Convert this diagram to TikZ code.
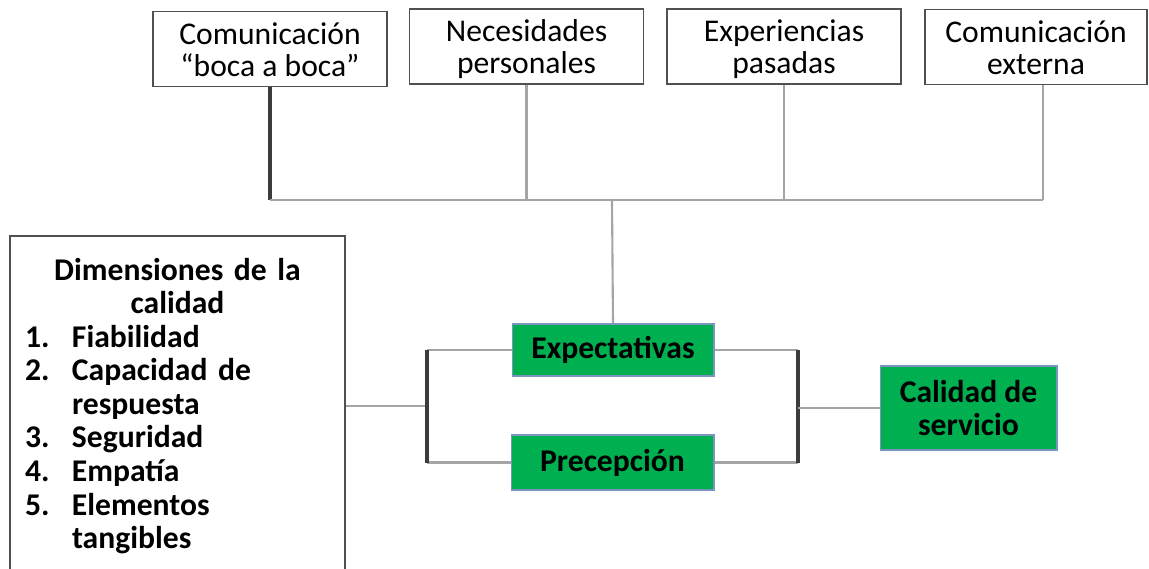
\documentclass[tikz,border=0pt]{standalone}
\usepackage{fontspec}
\setmainfont{Carlito}
\usetikzlibrary{calc}
\definecolor{rahmen}{RGB}{80,80,80}
\definecolor{linie}{RGB}{165,165,165}
\definecolor{balken}{RGB}{60,60,60}
\definecolor{gruen}{RGB}{0,176,80}
\definecolor{gruenrand}{RGB}{120,150,190}

\begin{document}
\begin{tikzpicture}[x=0.02cm, y=-0.02cm,
    font=\fontsize{18}{18.4}\selectfont,
    topbox/.style={draw=rahmen, line width=0.9pt, fill=white, align=center, minimum width=4.68cm, minimum height=1.5cm,
                   inner sep=0pt, text height=1.3cm, text depth=0.2cm},
    greenbox/.style={draw=gruenrand, line width=0.6pt, fill=gruen, align=center, font=\fontsize{18}{19}\selectfont\bfseries, inner sep=0pt},
    graylink/.style={draw=linie, line width=1.2pt},
    darklink/.style={draw=balken, line width=1.8pt}]

    \clip (0,0) rectangle (1149,568);

    % obere Reihe
    \node[topbox] (boca) at (270,49) {Comunicación\\“boca a boca”};
    \node[topbox, minimum height=1.46cm] (nec) at (526.5,46.5) {Necesidades\\personales};
    \node[topbox] (exp) at (784,46.5) {Experiencias\\pasadas};
    \node[topbox, minimum width=4.44cm] (ext) at (1036,47) {Comunicación\\externa};

    \coordinate (hub) at (612,200);
    \draw[darklink] (boca.south) -- (boca.south |- hub);
    \draw[graylink] (nec.south) -- (nec.south |- hub);
    \draw[graylink] (exp.south) -- (exp.south |- hub);
    \draw[graylink] ([xshift=0.14cm]ext.south) -- ([xshift=0.14cm]ext.south |- hub);
    \draw[graylink] (boca.south |- hub) -- ([xshift=0.14cm]ext.south |- hub);

    % mitte
    \node[greenbox, minimum width=4.04cm, minimum height=1.04cm] (erw) at (613,350) {Expectativas};
    \node[greenbox, minimum width=4.06cm, minimum height=1.1cm] (wahr) at (612.5,462.5) {Precepción};
    \node[greenbox, minimum width=3.54cm, minimum height=1.68cm] (cal) at (968.5,408) {Calidad de\\servicio};

    \draw[graylink] (hub) -- (erw.north);

    % linke box
    \node[draw=rahmen, line width=0.9pt, fill=white, text width=6.1cm, inner xsep=0.3cm, minimum height=6.8cm,
          font=\fontsize{18}{19.1}\selectfont\bfseries] (dim) at (177.5,406) {%
        \centering Dimensiones de la\\calidad\par
        \raggedright
        \makebox[0.94cm][l]{1.}Fiabilidad\\
        \makebox[0.94cm][l]{2.}Capacidad de\\
        \hspace*{0.94cm}respuesta\\
        \makebox[0.94cm][l]{3.}Seguridad\\
        \makebox[0.94cm][l]{4.}Empatía\\
        \makebox[0.94cm][l]{5.}Elementos\\
        \hspace*{0.94cm}tangibles\par};

    \coordinate (lb) at (427,406);
    \coordinate (rb) at (798,409);

    \draw[graylink] (dim.east) -- (dim.east -| lb);
    \draw[graylink] (erw.west) -- (erw.west -| lb);
    \draw[graylink] (wahr.west) -- (wahr.west -| lb);
    \draw[darklink] (erw.west -| lb) -- (wahr.west -| lb);

    \draw[graylink] (erw.east) -- (erw.east -| rb);
    \draw[graylink] (wahr.east) -- (wahr.east -| rb);
    \draw[darklink] (erw.east -| rb) -- (wahr.east -| rb);
    \draw[graylink] (rb |- cal.west) -- (cal.west);

\end{tikzpicture}
\end{document}
